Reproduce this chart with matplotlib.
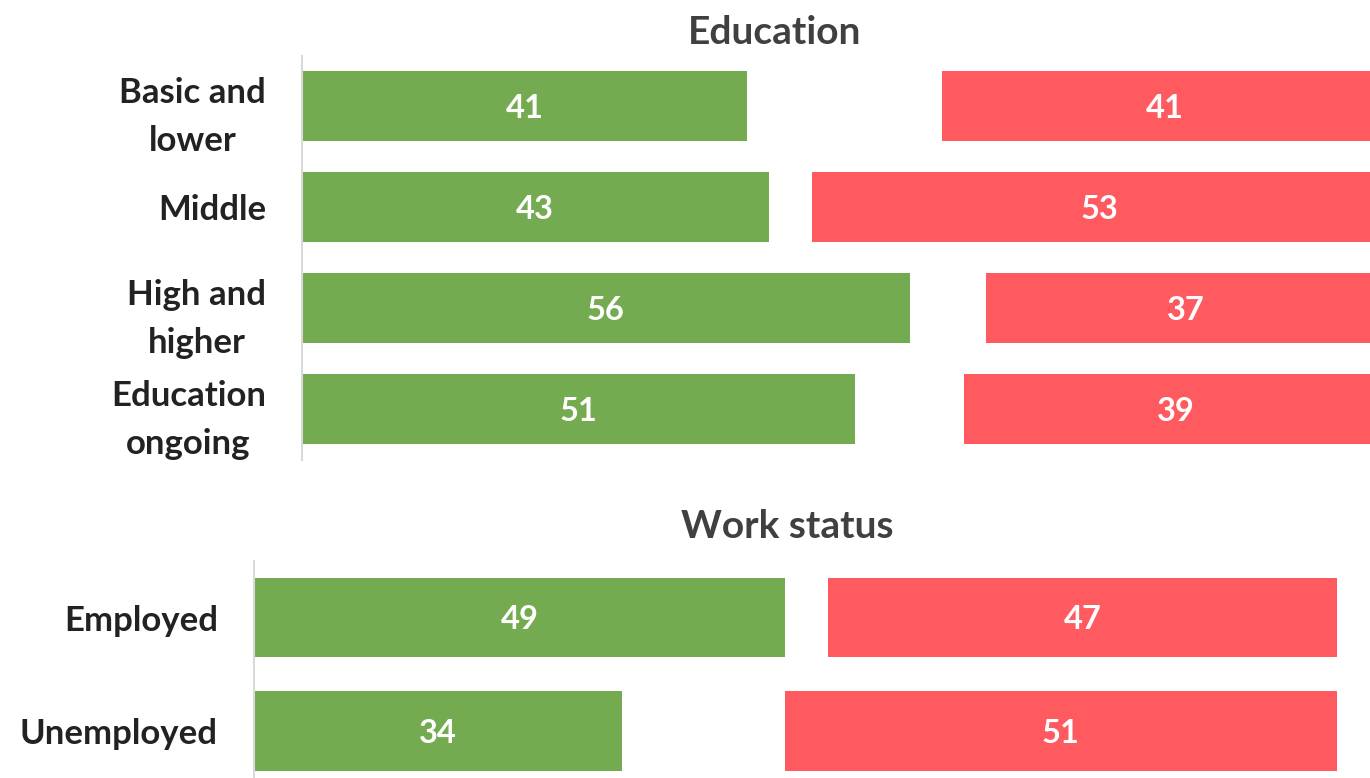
import matplotlib.pyplot as plt

plt.rcParams['font.family'] = ['Lato', 'DejaVu Sans']

edu_labels = ['Basic and\nlower', 'Middle', 'High and\nhigher', 'Education\nongoing']
edu_green = [41, 43, 56, 51]
edu_red = [41, 53, 37, 39]

work_labels = ['Employed', 'Unemployed']
work_green = [49, 34]
work_red = [47, 51]

green = '#75ab50'
red = '#ff5a5f'
W, H = 1370, 778

fig = plt.figure(figsize=(W / 100, H / 100), dpi=100)


def px_axes(left, top, right, bottom):
    return fig.add_axes([left / W, 1 - bottom / H, (right - left) / W, (bottom - top) / H])


def panel(ax, labels, g, r, height):
    n = len(labels)
    y = list(range(n))
    ax.barh(y, g, height=height, color=green)
    ax.barh(y, r, left=[100 - v for v in r], height=height, color=red)
    for i in range(n):
        ax.text(g[i] / 2, i + 0.02, str(g[i]), color='white', fontsize=23.5, fontweight='bold',
                ha='center', va='center')
        ax.text(100 - r[i] / 2, i + 0.02, str(r[i]), color='white', fontsize=23.5, fontweight='bold',
                ha='center', va='center')
    ax.set_xlim(0, 100)
    ax.set_ylim(n - 0.5, -0.5)
    ax.set_yticks(y)
    ax.set_yticklabels(labels, fontsize=25, fontweight='bold', color='#222222',
                       linespacing=1.6, multialignment='center')
    ax.tick_params(axis='y', length=0, pad=26)
    ax.set_xticks([])
    for s in ['top', 'right', 'bottom']:
        ax.spines[s].set_visible(False)
    ax.spines['left'].set_color('#d9d9d9')
    ax.spines['left'].set_linewidth(1.5)


# top panel: 0..100 spans 302..1387 px
ax1 = px_axes(302, 55.5, 1387, 459.5)
panel(ax1, edu_labels, edu_green, edu_red, 0.69)

# bottom panel: 0..100 spans 254..1337 px
ax2 = px_axes(254, 561, 1337, 787.5)
panel(ax2, work_labels, work_green, work_red, 0.70)

fig.text(775 / W, 1 - 32 / H, 'Education', fontsize=28, fontweight='bold',
         color='#404040', ha='center', va='center')
fig.text(787 / W, 1 - 527 / H, 'Work status', fontsize=28, fontweight='bold',
         color='#404040', ha='center', va='center')

fig.savefig('out.png', dpi=100)
